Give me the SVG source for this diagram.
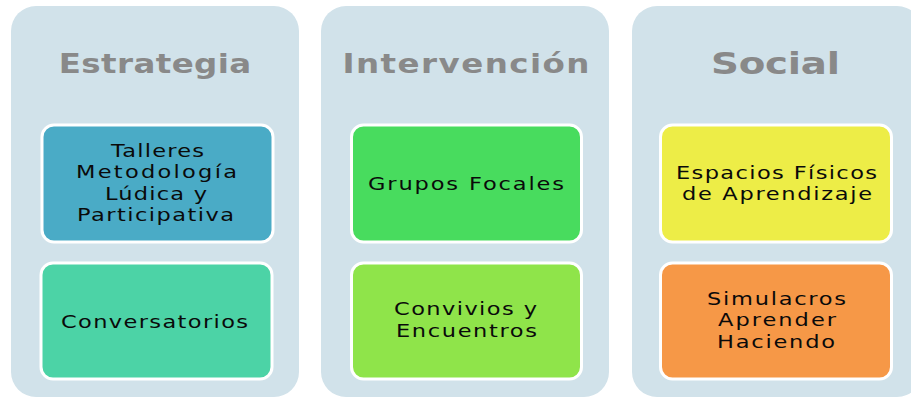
<svg xmlns="http://www.w3.org/2000/svg" width="911" height="398" viewBox="0 0 911 398">
<style>
.panel{fill:#d1e2ea}
.box{stroke:#ffffff;stroke-width:3}
.title{font-family:"DejaVu Sans","Verdana",sans-serif;font-weight:bold;font-size:26px;fill:#898989;text-anchor:middle}
.lbl{font-family:"DejaVu Sans","Verdana",sans-serif;font-size:18px;fill:#0a0a0a;text-anchor:middle}
</style>
<rect width="911" height="398" fill="#ffffff"/>
<g id="panel-estrategia">
<rect class="panel" x="11" y="6" width="288" height="391" rx="25"/>
<text class="title" transform="translate(155 0) scale(1.25 1)" x="0" y="73" textLength="154" lengthAdjust="spacing">Estrategia</text>
</g>
<g id="panel-intervencion">
<rect class="panel" x="321" y="6" width="288" height="391" rx="25"/>
<text class="title" transform="translate(466 0) scale(1.25 1)" x="0" y="73" textLength="197.6" lengthAdjust="spacing">Intervención</text>
</g>
<g id="panel-social">
<rect class="panel" x="632" y="6" width="290" height="391" rx="25"/>
<text class="title" style="font-size:31px" transform="translate(775.5 0) scale(1.25 1)" x="0" y="74" textLength="103.2" lengthAdjust="spacing">Social</text>
</g>
<g id="connectors"></g>
<g id="node-talleres">
<rect class="box" x="42" y="125" width="231" height="117" rx="12" fill="#4aabc6"/>
<text class="lbl" transform="translate(157 0) scale(1.25 1)"><tspan x="0.4" y="157" textLength="74.4" lengthAdjust="spacing">Talleres</tspan><tspan x="-0.4" y="178.5" textLength="128.8" lengthAdjust="spacing">Metodología</tspan><tspan x="-0.8" y="200" textLength="81.6" lengthAdjust="spacing">Lúdica y</tspan><tspan x="-1.2" y="221.5" textLength="125.6" lengthAdjust="spacing">Participativa</tspan></text>
</g>
<g id="node-conversatorios">
<rect class="box" x="41" y="263" width="231" height="116" rx="12" fill="#4cd3a6"/>
<text class="lbl" transform="translate(154.5 0) scale(1.25 1)" x="0" y="328" textLength="149.6" lengthAdjust="spacing">Conversatorios</text>
</g>
<g id="node-grupos">
<rect class="box" x="351.5" y="125" width="230" height="117" rx="12" fill="#48dc5e"/>
<text class="lbl" transform="translate(466 0) scale(1.25 1)" x="0" y="190" textLength="156.8" lengthAdjust="spacing">Grupos Focales</text>
</g>
<g id="node-convivios">
<rect class="box" x="351.5" y="263" width="230" height="116" rx="12" fill="#8fe44a"/>
<text class="lbl" transform="translate(466 0) scale(1.25 1)"><tspan x="-0.4" y="315" textLength="114.4" lengthAdjust="spacing">Convivios y</tspan><tspan x="0.4" y="337" textLength="112.8" lengthAdjust="spacing">Encuentros</tspan></text>
</g>
<g id="node-espacios">
<rect class="box" x="660.5" y="125" width="231" height="117" rx="12" fill="#eded47"/>
<text class="lbl" transform="translate(776.5 0) scale(1.25 1)"><tspan x="0" y="179" textLength="160.8" lengthAdjust="spacing">Espacios Físicos</tspan><tspan x="0.4" y="200" textLength="152" lengthAdjust="spacing">de Aprendizaje</tspan></text>
</g>
<g id="node-simulacros">
<rect class="box" x="660.5" y="263" width="231" height="116" rx="12" fill="#f69847"/>
<text class="lbl" transform="translate(776.5 0) scale(1.25 1)"><tspan x="0" y="305" textLength="111.2" lengthAdjust="spacing">Simulacros</tspan><tspan x="0.4" y="326" textLength="94.4" lengthAdjust="spacing">Aprender</tspan><tspan x="-0.4" y="348" textLength="94.4" lengthAdjust="spacing">Haciendo</tspan></text>
</g>
</svg>
